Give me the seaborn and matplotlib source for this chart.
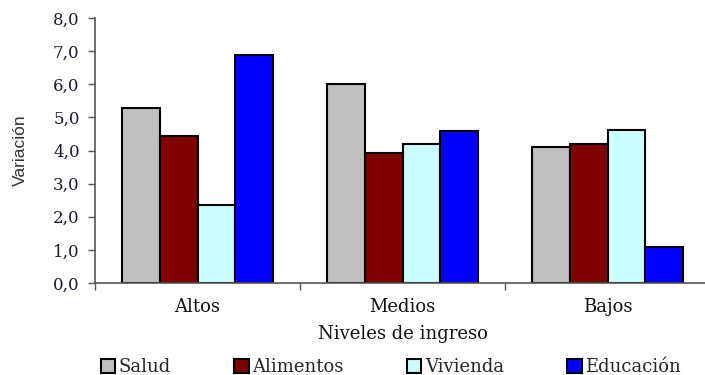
import matplotlib
matplotlib.use("Agg")
import matplotlib.pyplot as plt
import seaborn as sns
import pandas as pd
from matplotlib.ticker import FixedLocator, FuncFormatter
from matplotlib.patches import Patch

niveles = ["Altos", "Medios", "Bajos"]
rubros = ["Salud", "Alimentos", "Vivienda", "Educación"]
salud = [5.28, 6.02, 4.11]
alimentos = [4.44, 3.92, 4.19]
vivienda = [2.35, 4.21, 4.61]
educacion = [6.89, 4.59, 1.09]
colores = ["#C0C0C0", "#800000", "#CCFFFF", "#0000FF"]

df = pd.DataFrame({
    "Nivel": niveles * 4,
    "Rubro": [r for r in rubros for _ in niveles],
    "Variación": salud + alimentos + vivienda + educacion,
})

sns.set_theme(style="white")
plt.rcParams["font.family"] = ["DejaVu Serif"]

fig = plt.figure(figsize=(7.05, 3.75), dpi=100)
ax = fig.add_axes([95 / 705, 1 - 283 / 375, 615 / 705, 265 / 375])

sns.barplot(data=df, x="Nivel", y="Variación", hue="Rubro", order=niveles,
            hue_order=rubros, palette=colores, width=0.74, dodge=True,
            edgecolor="black", linewidth=1.5, saturation=1, ax=ax, legend=False)

ax.set_ylim(0, 8)
ax.set_xlim(-0.5, 2.5)
ax.set_yticks(range(0, 9))
ax.yaxis.set_major_formatter(FuncFormatter(lambda v, p: f"{v:.1f}".replace(".", ",")))
ax.tick_params(axis="y", which="major", direction="out", length=5, width=1,
               color="#555555", labelsize=12, labelcolor="#1a1a3a", pad=6, left=True)
ax.tick_params(axis="x", which="major", length=0, labelsize=13, pad=11,
               labelcolor="#111111")
ax.xaxis.set_minor_locator(FixedLocator([-0.5, 0.5, 1.5, 2.5]))
ax.tick_params(axis="x", which="minor", direction="out", length=5, width=1,
               color="#555555", bottom=True)

for side in ["top", "right"]:
    ax.spines[side].set_visible(False)
for side in ["left", "bottom"]:
    ax.spines[side].set_color("#555555")
    ax.spines[side].set_linewidth(1.2)

ax.set_xlabel("Niveles de ingreso", fontsize=13, labelpad=6, color="#111111")
ax.set_ylabel("Variación", fontsize=12.5, family="Liberation Sans", color="#333333",
              labelpad=18)

handles = [Patch(facecolor=c, edgecolor="black", linewidth=1.5) for c in colores]
fig.legend(handles, rubros, loc="center", bbox_to_anchor=(391 / 705, 1 - 367 / 375),
           ncol=4, frameon=False, fontsize=13, handlelength=0.8, handleheight=0.8,
           handletextpad=0.2, columnspacing=3.5, borderaxespad=0, borderpad=0)

fig.savefig("out.png", dpi=100)
